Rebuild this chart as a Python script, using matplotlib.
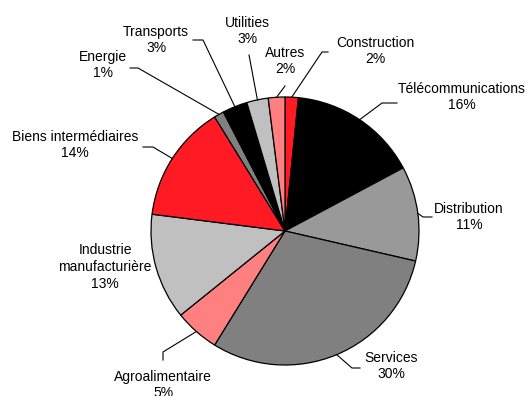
import numpy as np
import matplotlib
matplotlib.use('Agg')
import matplotlib.pyplot as plt

plt.rcParams['font.family'] = ['Liberation Sans', 'DejaVu Sans']

# Secteurs, dans l'ordre horaire depuis midi
secteurs = ['Construction', 'Télécommunications', 'Distribution', 'Services',
            'Agroalimentaire', 'Industrie\nmanufacturière', 'Biens intermédiaires',
            'Energie', 'Transports', 'Utilities', 'Autres']
parts = [1.6, 15.6, 11.4, 30.2, 5.4, 12.8, 14.2, 1.2, 3.0, 2.6, 2.0]
couleurs = ['#ff1a24', '#000000', '#999999', '#808080', '#ff8080', '#c0c0c0',
            '#ff1a24', '#808080', '#000000', '#c0c0c0', '#ff8080']

W, H = 532, 396
cx, cy, r = 285, H - 231, 134

# position des étiquettes (pixels image) et coude / fin du trait de rappel
pos_txt = [(375, 51), (462, 97), (469, 217), (391, 366), (163, 385), (105, 267),
           (75, 145), (103, 65), (156, 40), (247, 31), (285, 61)]
coudes = [((322, 52), (328, 52)), ((382, 103), (397, 103)), ((423, 217), (432, 217)),
          ((352, 368), (360, 368)), ((163, 352), (163, 360)), None,
          ((153, 147), (143, 147)), ((138, 68), (130, 68)), ((203, 40), (193, 40)),
          ((249, 55), (249, 55)), ((285, 86), (285, 86))]

fig = plt.figure(figsize=(W / 100, H / 100), dpi=100)
ax = fig.add_axes([0, 0, 1, 1])
ax.set_xlim(0, W)
ax.set_ylim(0, H)
ax.axis('off')

wedges, _ = ax.pie(parts, colors=couleurs, startangle=90, counterclock=False,
                   center=(cx, cy), radius=r, frame=True,
                   wedgeprops=dict(edgecolor='black', linewidth=0.9))
ax.set_xlim(0, W)
ax.set_ylim(0, H)
ax.set_aspect('equal')
ax.axis('off')

for w, nom, p, (tx, ty), c in zip(wedges, secteurs, parts, pos_txt, coudes):
    ax.text(tx, H - ty, f"{nom}\n{round(p)}%", ha='center', va='center',
            fontsize=10, linespacing=1.25)
    if c is None:
        continue
    a = np.deg2rad((w.theta1 + w.theta2) / 2)
    x0, y0 = cx + r * np.cos(a), cy + r * np.sin(a)
    (ex, ey), (fx, fy) = c
    ax.plot([x0, ex, fx], [y0, H - ey, H - fy], color='black', lw=0.8)

fig.savefig('out.png', dpi=100)
